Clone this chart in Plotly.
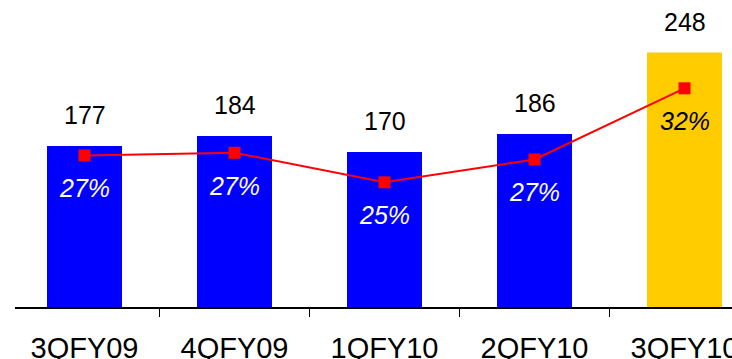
import plotly.graph_objects as go

categories = ["3QFY09", "4QFY09", "1QFY10", "2QFY10", "3QFY10"]
bar_heights = [175, 186, 168.5, 188, 276.5]   # drawn bar heights
bar_labels = ["177", "184", "170", "186", "248"]
pct_values = [27.0, 27.2, 25.0, 26.7, 32.0]
pct_labels = ["27%", "27%", "25%", "27%", "32%"]
bar_colors = ["#0000FF", "#0000FF", "#0000FF", "#0000FF", "#FFCC00"]
pct_label_colors = ["white", "white", "white", "white", "black"]

FONT = "Liberation Sans, Arial, sans-serif"

fig = go.Figure()
fig.add_trace(go.Bar(
    x=categories, y=bar_heights, marker=dict(color=bar_colors, line=dict(width=0)),
    width=0.5, hoverinfo="skip", showlegend=False,
))
fig.add_trace(go.Scatter(
    x=categories, y=pct_values, yaxis="y2", mode="lines+markers",
    line=dict(color="#FF0000", width=2),
    marker=dict(symbol="square", size=12, color="#FF0000"),
    hoverinfo="skip", showlegend=False,
))

annotations = []
for c, h, t in zip(categories, bar_heights, bar_labels):
    annotations.append(dict(x=c, y=h, xref="x", yref="y", text=t, showarrow=False,
                            yanchor="middle", yshift=31,
                            font=dict(family=FONT, size=25, color="black")))
for c, p, t, col in zip(categories, pct_values, pct_labels, pct_label_colors):
    annotations.append(dict(x=c, y=p, xref="x", yref="y2", text="<i>" + t + "</i>",
                            showarrow=False, yanchor="middle", yshift=-33,
                            font=dict(family=FONT, size=25, color=col)))

x0 = (15 - 84.5) / 150
x1 = (732 - 84.5) / 150

fig.update_layout(
    width=732, height=359,
    margin=dict(l=15, r=0, t=0, b=52),
    paper_bgcolor="white", plot_bgcolor="white",
    annotations=annotations,
    xaxis=dict(type="category", range=[x0, x1], tickson="boundaries",
               ticks="outside", ticklen=8, tickwidth=1, tickcolor="black",
               showline=True, linecolor="black", linewidth=1.5,
               showgrid=False, zeroline=False, ticklabelstandoff=14,
               automargin=False,
               tickfont=dict(family=FONT, size=29, color="black")),
    yaxis=dict(range=[0, 307 / 0.92], visible=False, showgrid=False, zeroline=False),
    yaxis2=dict(range=[15.715, 38.575], overlaying="y", visible=False,
                showgrid=False, zeroline=False),
)

fig.write_html("out.html")
